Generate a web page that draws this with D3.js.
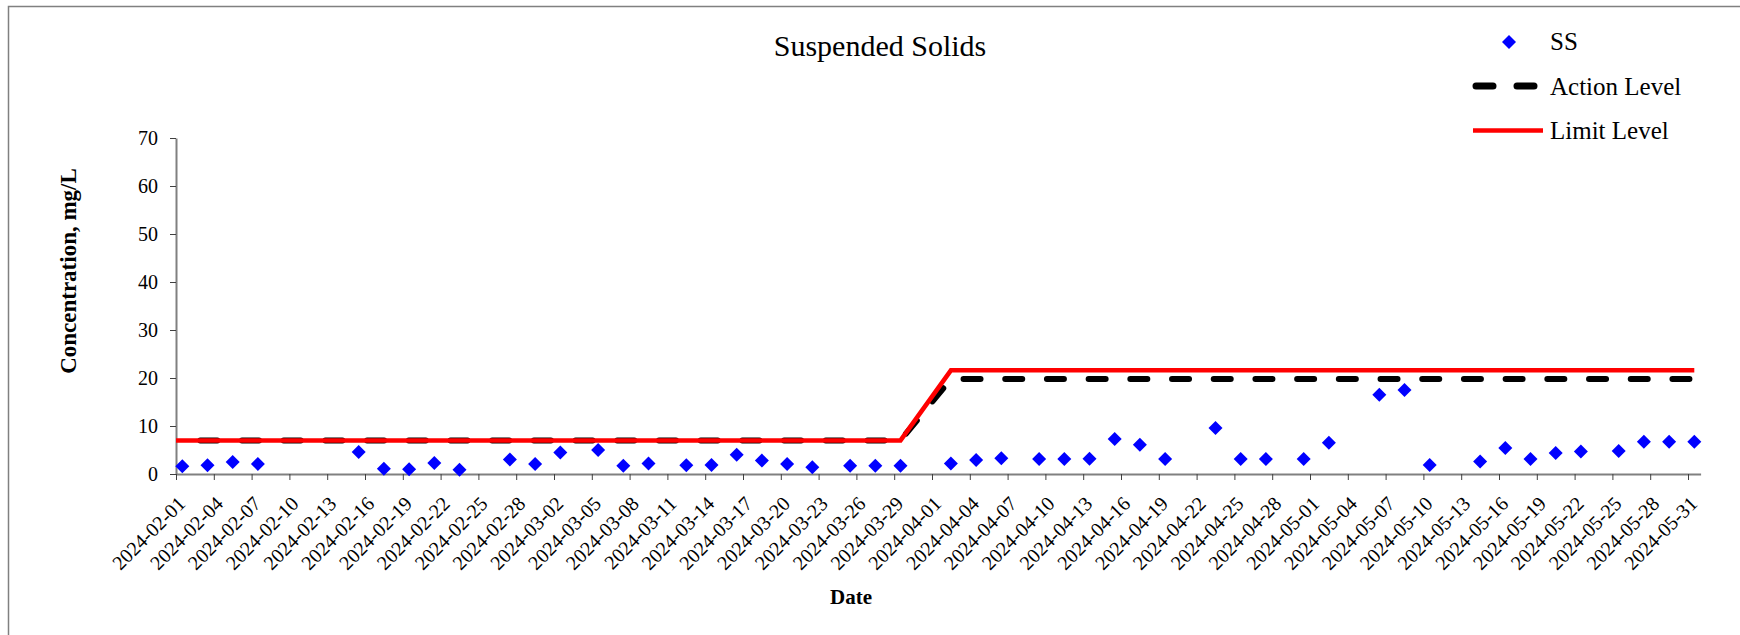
<!DOCTYPE html>
<html><head><meta charset="utf-8">
<script src="https://cdn.jsdelivr.net/npm/d3@7"></script>
<style>
body{margin:0;background:#fff;overflow:hidden}
svg{display:block}
text{font-family:"Liberation Serif","Times New Roman",serif;fill:#000}
</style>
</head><body>
<svg id="chart" width="1740" height="635"></svg>
<script>
// ---------------- DATA ----------------
const sampleDates = [
  "2024-02-01","2024-02-03","2024-02-05","2024-02-07","2024-02-15","2024-02-17","2024-02-19","2024-02-21","2024-02-23","2024-02-27","2024-02-29",
  "2024-03-02","2024-03-05","2024-03-07","2024-03-09","2024-03-12","2024-03-14","2024-03-16","2024-03-18","2024-03-20","2024-03-22","2024-03-25","2024-03-27","2024-03-29",
  "2024-04-02","2024-04-04","2024-04-06","2024-04-09","2024-04-11","2024-04-13","2024-04-15","2024-04-17","2024-04-19","2024-04-23","2024-04-25","2024-04-27","2024-04-30",
  "2024-05-02","2024-05-06","2024-05-08","2024-05-10","2024-05-14","2024-05-16","2024-05-18","2024-05-20","2024-05-22","2024-05-25","2024-05-27","2024-05-29","2024-05-31"
];
const ssValues = [
  1.6,1.8,2.5,2.1,4.6,1.1,1.0,2.3,0.9,3.0,2.1,
  4.5,5.0,1.7,2.2,1.8,1.9,4.0,2.8,2.1,1.4,1.7,1.7,1.7,
  2.2,2.9,3.3,3.1,3.1,3.2,7.3,6.1,3.1,9.6,3.1,3.1,3.1,
  6.5,16.5,17.5,1.9,2.6,5.4,3.1,4.4,4.7,4.8,6.7,6.7,6.7
];
const actionLevel = [
  7,7,7,7,7,7,7,7,7,7,7,
  7,7,7,7,7,7,7,7,7,7,7,7,7,
  19.8,19.8,19.8,19.8,19.8,19.8,19.8,19.8,19.8,19.8,19.8,19.8,19.8,
  19.8,19.8,19.8,19.8,19.8,19.8,19.8,19.8,19.8,19.8,19.8,19.8,19.8
];
const limitLevel = [
  7,7,7,7,7,7,7,7,7,7,7,
  7,7,7,7,7,7,7,7,7,7,7,7,7,
  21.6,21.6,21.6,21.6,21.6,21.6,21.6,21.6,21.6,21.6,21.6,21.6,21.6,
  21.6,21.6,21.6,21.6,21.6,21.6,21.6,21.6,21.6,21.6,21.6,21.6,21.6
];
const yTickValues = [0,10,20,30,40,50,60,70];
const xTickLabels = [
  "2024-02-01","2024-02-04","2024-02-07","2024-02-10","2024-02-13","2024-02-16","2024-02-19","2024-02-22","2024-02-25","2024-02-28",
  "2024-03-02","2024-03-05","2024-03-08","2024-03-11","2024-03-14","2024-03-17","2024-03-20","2024-03-23","2024-03-26","2024-03-29",
  "2024-04-01","2024-04-04","2024-04-07","2024-04-10","2024-04-13","2024-04-16","2024-04-19","2024-04-22","2024-04-25","2024-04-28",
  "2024-05-01","2024-05-04","2024-05-07","2024-05-10","2024-05-13","2024-05-16","2024-05-19","2024-05-22","2024-05-25","2024-05-28","2024-05-31"
];
const xDomain = ["2024-02-01","2024-06-01"];
const yDomain = [0,70];
const titleText = "Suspended Solids";
const xTitle = "Date";
const yTitle = "Concentration, mg/L";
const seriesNames = ["SS","Action Level","Limit Level"];

// ---------------- LAYOUT ----------------
const parse = d3.utcParse("%Y-%m-%d");
const fmt = d3.utcFormat("%Y-%m-%d");
const plotLeft = 176, plotRight = 1700.6, plotTop = 138, plotBottom = 474;

const svg = d3.select("#chart");

// outer chart border (only top and left edges fall inside the picture)
svg.append("path").attr("d","M8.5,640V6.5H1745")
  .attr("fill","none").attr("stroke","#808080").attr("stroke-width",1.5);

const x = d3.scaleUtc().domain(xDomain.map(parse)).range([plotLeft,plotRight]);
const y = d3.scaleLinear().domain(yDomain).range([plotBottom,plotTop]);

// points sit in the middle of each day slot
const dayStart = parse(xDomain[0]);
const halfDay = (x(d3.utcDay.offset(dayStart,1)) - x(dayStart))/2;
const px = s => x(parse(s)) + halfDay;

// Y axis
const yAxis = svg.append("g").attr("transform",`translate(${plotLeft},0)`)
  .call(d3.axisLeft(y).tickValues(yTickValues).tickSize(6).tickSizeOuter(0).tickPadding(12));
yAxis.select(".domain").attr("stroke","#808080").attr("stroke-width",2);
yAxis.selectAll(".tick line").attr("stroke","#404040").attr("stroke-width",1);
yAxis.selectAll(".tick text").attr("font-size",20).attr("font-family","Liberation Serif, serif").attr("fill","#000");

// X axis
const xAxis = svg.append("g").attr("transform",`translate(0,${plotBottom})`)
  .call(d3.axisBottom(x).tickValues(xTickLabels.map(parse)).tickSize(6).tickSizeOuter(0).tickFormat(fmt));
xAxis.select(".domain").attr("stroke","#808080").attr("stroke-width",2);
xAxis.selectAll(".tick line").attr("stroke","#404040").attr("stroke-width",1);
xAxis.selectAll(".tick text")
  .attr("font-size",20).attr("font-family","Liberation Serif, serif").attr("fill","#000")
  .attr("text-anchor","end").attr("dy",null).attr("y",null)
  .attr("transform","translate(10,31) rotate(-45)");

// series: SS diamonds
const diamond = "M0,-7L7,0L0,7L-7,0Z";
svg.append("g").selectAll("path").data(sampleDates).join("path")
  .attr("d",diamond)
  .attr("transform",(d,i)=>`translate(${px(d)},${y(ssValues[i])})`)
  .attr("fill","#0000FF");

// level lines (extend from the left edge of the plot)
function levelPoints(vals){
  const pts = [[x(dayStart), y(vals[0])]];
  sampleDates.forEach((d,i)=>pts.push([px(d), y(vals[i])]));
  return pts;
}
const line = d3.line();
svg.append("path").attr("d",line(levelPoints(actionLevel)))
  .attr("fill","none").attr("stroke","#000").attr("stroke-width",6)
  .attr("stroke-linecap","round").attr("stroke-linejoin","round")
  .attr("stroke-dasharray","17,24.7").attr("stroke-dashoffset",17.4);
svg.append("path").attr("d",line(levelPoints(limitLevel)))
  .attr("fill","none").attr("stroke","#FF0000").attr("stroke-width",4.5)
  .attr("stroke-linejoin","miter");

// title
svg.append("text").attr("x",880).attr("y",55.5).attr("text-anchor","middle")
  .attr("font-size",30).text(titleText);

// axis titles
svg.append("text").attr("x",851).attr("y",604).attr("text-anchor","middle")
  .attr("font-size",21).attr("font-weight","bold").text(xTitle);
svg.append("text").attr("transform","translate(76,271) rotate(-90)").attr("text-anchor","middle")
  .attr("font-size",23).attr("font-weight","bold").text(yTitle);

// legend
const lg = svg.append("g");
lg.append("path").attr("d",diamond).attr("transform","translate(1509,42)").attr("fill","#0000FF");
lg.append("line").attr("x1",1476).attr("x2",1534).attr("y1",86).attr("y2",86)
  .attr("stroke","#000").attr("stroke-width",7).attr("stroke-linecap","round")
  .attr("stroke-dasharray","17,24");
lg.append("line").attr("x1",1473).attr("x2",1543).attr("y1",130.5).attr("y2",130.5)
  .attr("stroke","#FF0000").attr("stroke-width",4.5);
const ly = [50,94.5,138.5];
seriesNames.forEach((n,i)=>{
  lg.append("text").attr("x",1550).attr("y",ly[i]).attr("font-size",25).text(n);
});
</script>
</body></html>
